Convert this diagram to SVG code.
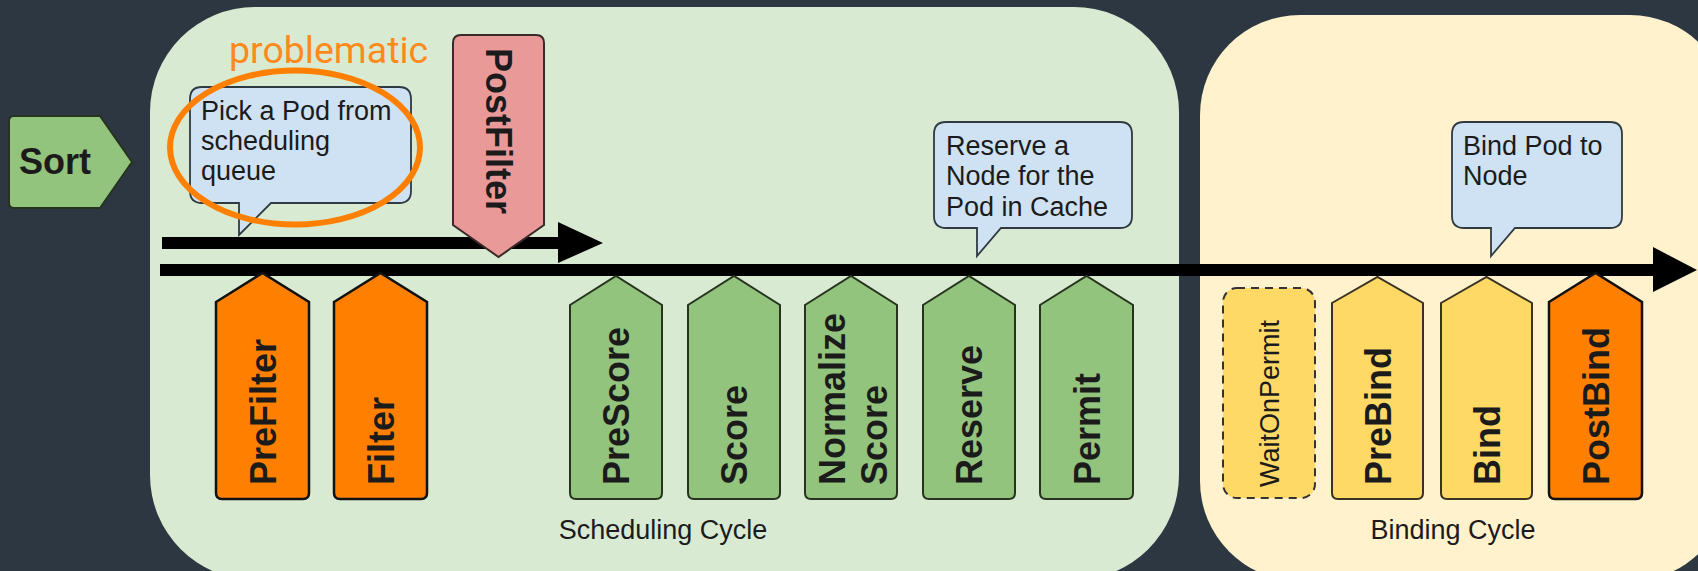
<svg xmlns="http://www.w3.org/2000/svg" width="1698" height="571" viewBox="0 0 1698 571">
  <style>
    .bg { fill: #2c3741; }
    .lane-sched { fill: #d9ead3; }
    .lane-bind { fill: #fff2cc; }
    .green { fill: #93c47d; stroke: #27331f; stroke-width: 2; }
    .orange { fill: #ff8000; stroke: #111; stroke-width: 2.5; }
    .yellow { fill: #ffd966; stroke: #3a3222; stroke-width: 2; }
    .pink { fill: #ea9999; stroke: #3a2a2a; stroke-width: 2; }
    .dashed { fill: #ffd966; stroke: #333; stroke-width: 2; stroke-dasharray: 8 6; }
    .callout { fill: #cfe2f3; stroke: #2f3a42; stroke-width: 1.8; }
    .bold { font-family: "Liberation Sans", Arial, sans-serif; font-weight: bold; font-size: 36px; fill: #1b1b1b; }
    .reg { font-family: "Liberation Sans", Arial, sans-serif; font-size: 27px; fill: #1b1b1b; }
    .flow { fill: #000; stroke: none; }
    .note { font-family: Roboto, "Noto Sans", sans-serif; font-size: 37.5px; fill: #ff8a1c; }
    .ring { fill: none; stroke: #ff8000; stroke-width: 6; }
  </style>

  <rect class="bg" x="0" y="0" width="1698" height="571"/>

  <!-- lanes -->
  <g id="scheduling-cycle">
    <rect class="lane-sched" x="150" y="7" width="1029" height="573" rx="105" ry="105"/>
    <text class="reg" x="663" y="539" text-anchor="middle">Scheduling Cycle</text>
  </g>
  <g id="binding-cycle">
    <rect class="lane-bind" x="1200" y="15" width="530" height="566" rx="100" ry="100"/>
    <text class="reg" x="1453" y="539" text-anchor="middle">Binding Cycle</text>
  </g>

  <!-- flow arrows -->
  <g id="connectors">
    <rect class="flow" x="162" y="237" width="397" height="12"/>
    <polygon class="flow" points="558,222 603,243 558,263"/>
    <rect class="flow" x="160" y="264" width="1494" height="12"/>
    <polygon class="flow" points="1653,247 1697,270 1653,292"/>
  </g>

  <!-- queue sort -->
  <g id="sort">
    <path class="green" d="M14,116 H100 L132,162 L100,208 H14 Q9,208 9,203 V121 Q9,116 14,116 Z"/>
    <text class="bold" x="19" y="174">Sort</text>
  </g>

  <!-- speech bubbles -->
  <g id="note-pick-pod">
    <path class="callout" d="M202,87 H399 Q411,87 411,99 V191 Q411,203 399,203 H271 L239,235 V203 H202 Q190,203 190,191 V99 Q190,87 202,87 Z"/>
    <text class="reg" x="201" y="120">Pick a Pod from</text>
    <text class="reg" x="201" y="150">scheduling</text>
    <text class="reg" x="201" y="180">queue</text>
  </g>
  <g id="note-reserve">
    <path class="callout" d="M946,122 H1120 Q1132,122 1132,134 V216 Q1132,228 1120,228 H1001 L977,256 V228 H946 Q934,228 934,216 V134 Q934,122 946,122 Z"/>
    <text class="reg" x="946" y="155">Reserve a</text>
    <text class="reg" x="946" y="185">Node for the</text>
    <text class="reg" x="946" y="216">Pod in Cache</text>
  </g>
  <g id="note-bind">
    <path class="callout" d="M1464,122 H1610 Q1622,122 1622,134 V216 Q1622,228 1610,228 H1515 L1491,256 V228 H1464 Q1452,228 1452,216 V134 Q1452,122 1464,122 Z"/>
    <text class="reg" x="1463" y="155">Bind Pod to</text>
    <text class="reg" x="1463" y="185">Node</text>
  </g>

  <!-- highlight -->
  <g id="problematic">
    <text class="note" x="229" y="63">problematic</text>
    <ellipse class="ring" cx="295" cy="147.5" rx="125" ry="77"/>
  </g>

  <!-- extension points -->
  <g id="postfilter">
    <path class="pink" d="M461,35 H536 Q544,35 544,43 V225 L498.5,257 L453,225 V43 Q453,35 461,35 Z"/>
    <text class="bold" transform="translate(485.5,48) rotate(90)">PostFilter</text>
  </g>
  <g id="prefilter">
    <path class="orange" d="M216,302 L262.5,273 L309,302 V493 Q309,499 303,499 H222 Q216,499 216,493 Z"/>
    <text class="bold" transform="translate(275.5,485) rotate(-90)">PreFilter</text>
  </g>
  <g id="filter">
    <path class="orange" d="M334,302 L380.5,273 L427,302 V493 Q427,499 421,499 H340 Q334,499 334,493 Z"/>
    <text class="bold" transform="translate(393.5,485) rotate(-90)">Filter</text>
  </g>
  <g id="prescore">
    <path class="green" d="M570,305 L616,276 L662,305 V493 Q662,499 656,499 H576 Q570,499 570,493 Z"/>
    <text class="bold" transform="translate(629,485) rotate(-90)">PreScore</text>
  </g>
  <g id="score">
    <path class="green" d="M688,305 L734,276 L780,305 V493 Q780,499 774,499 H694 Q688,499 688,493 Z"/>
    <text class="bold" transform="translate(747,485) rotate(-90)">Score</text>
  </g>
  <g id="normalize-score">
    <path class="green" d="M805,305 L851,276 L897,305 V493 Q897,499 891,499 H811 Q805,499 805,493 Z"/>
    <text class="bold" transform="translate(845,485) rotate(-90)"><tspan x="0" y="0">Normalize</tspan><tspan x="0" y="42">Score</tspan></text>
  </g>
  <g id="reserve">
    <path class="green" d="M923,305 L969,276 L1015,305 V493 Q1015,499 1009,499 H929 Q923,499 923,493 Z"/>
    <text class="bold" transform="translate(982,485) rotate(-90)">Reserve</text>
  </g>
  <g id="permit">
    <path class="green" d="M1040,305 L1086.5,276 L1133,305 V493 Q1133,499 1127,499 H1046 Q1040,499 1040,493 Z"/>
    <text class="bold" transform="translate(1099.5,485) rotate(-90)">Permit</text>
  </g>
  <g id="wait-on-permit">
    <rect class="dashed" x="1223" y="288" width="92" height="210" rx="14" ry="14"/>
    <text class="reg" transform="translate(1279,487) rotate(-90)">WaitOnPermit</text>
  </g>
  <g id="prebind">
    <path class="yellow" d="M1332,303 L1377.5,277 L1423,303 V493 Q1423,499 1417,499 H1338 Q1332,499 1332,493 Z"/>
    <text class="bold" transform="translate(1390.5,485) rotate(-90)">PreBind</text>
  </g>
  <g id="bind">
    <path class="yellow" d="M1441,303 L1486.5,277 L1532,303 V493 Q1532,499 1526,499 H1447 Q1441,499 1441,493 Z"/>
    <text class="bold" transform="translate(1499.5,485) rotate(-90)">Bind</text>
  </g>
  <g id="postbind">
    <path class="orange" d="M1549,302 L1595.5,273 L1642,302 V493 Q1642,499 1636,499 H1555 Q1549,499 1549,493 Z"/>
    <text class="bold" transform="translate(1608.5,485) rotate(-90)">PostBind</text>
  </g>
</svg>
